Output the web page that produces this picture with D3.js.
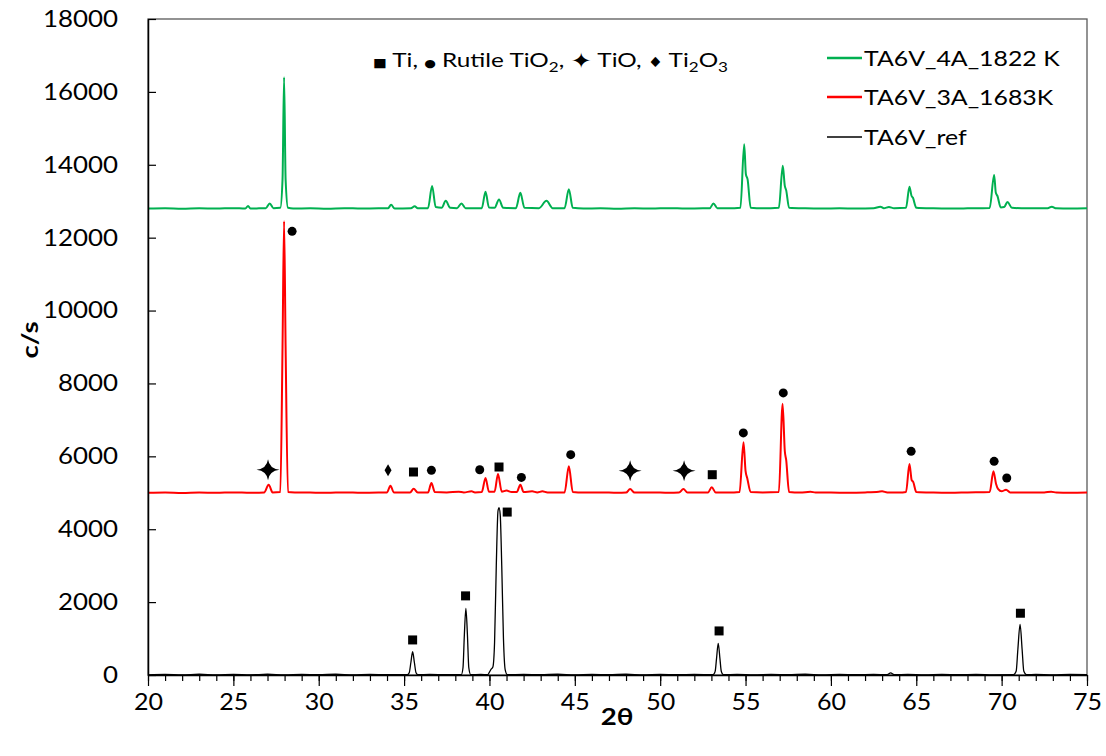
<!DOCTYPE html>
<html><head><meta charset="utf-8">
<script src="https://cdn.jsdelivr.net/npm/d3@7"></script>
<style>body{margin:0;background:#fff}svg{display:block}text{font-family:Lato,"Open Sans",sans-serif;fill:#000}</style>
</head><body><svg id="c" width="1106" height="756"></svg>
<script>
// ---- data ----
const seriesNames = ["TA6V_4A_1822 K", "TA6V_3A_1683K", "TA6V_ref"];
const green = [[20,12800],[21,12810],[22,12795],[23,12805],[24,12800],[25,12810],[25.7,12800],[25.86,12870],[26.0,12800],[26.5,12805],[26.9,12810],[27.13,12940],[27.35,12810],[27.75,12820],[27.88,13600],[27.97,16400],[28.06,13600],[28.2,12820],[28.5,12800],[29.5,12805],[30.5,12795],[31.5,12810],[32.5,12800],[33.5,12805],[34.05,12805],[34.24,12900],[34.45,12800],[35.4,12805],[35.62,12860],[35.8,12805],[36.4,12810],[36.64,13420],[36.85,12840],[37.2,12820],[37.44,13010],[37.7,12820],[38.1,12810],[38.36,12940],[38.6,12810],[39.55,12810],[39.77,13260],[39.97,12830],[40.3,12820],[40.56,13050],[40.8,12820],[41.55,12810],[41.81,13230],[42.05,12820],[42.9,12810],[43.34,13010],[43.7,12810],[44.4,12810],[44.65,13330],[44.88,12820],[45.5,12800],[46.5,12805],[47.5,12795],[48.5,12805],[49.5,12800],[50.5,12810],[51.5,12800],[52.5,12805],[52.9,12805],[53.12,12940],[53.35,12810],[54.0,12805],[54.7,12820],[54.92,14565],[55.02,13740],[55.12,13600],[55.3,12820],[56,12805],[56.95,12820],[57.18,13970],[57.3,13420],[57.38,13300],[57.55,12820],[58.5,12805],[59.5,12800],[60.5,12805],[61.5,12800],[62.5,12810],[62.9,12850],[63.1,12810],[63.4,12840],[63.7,12810],[64.4,12820],[64.6,13400],[64.72,13150],[64.8,13100],[65.0,12820],[66,12805],[67,12800],[68,12805],[69.3,12815],[69.56,13720],[69.66,13230],[69.75,13150],[69.95,12830],[70.15,12840],[70.34,12980],[70.6,12820],[71.5,12805],[72.7,12810],[72.94,12850],[73.2,12805],[74,12800],[75,12805]];
const red = [[20,5000],[21,5010],[22,4995],[23,5005],[24,5000],[25,5010],[26,5000],[26.8,5010],[27.07,5220],[27.3,5010],[27.75,5020],[27.88,9000],[27.97,12450],[28.06,9000],[28.2,5020],[28.6,5010],[29.5,5005],[30.5,5000],[31.5,5010],[32.5,5000],[33.5,5005],[34.0,5010],[34.2,5195],[34.4,5010],[35.35,5010],[35.56,5110],[35.8,5010],[36.4,5010],[36.6,5270],[36.8,5020],[37.5,5010],[38.2,5030],[38.5,5010],[38.95,5040],[39.15,5010],[39.55,5020],[39.77,5405],[39.97,5030],[40.3,5030],[40.5,5515],[40.72,5030],[41.0,5060],[41.3,5020],[41.6,5020],[41.81,5220],[42.0,5020],[42.5,5040],[42.8,5010],[43.1,5040],[43.4,5010],[44.4,5010],[44.65,5725],[44.88,5020],[45.5,5005],[46.5,5010],[47.5,5000],[48.0,5005],[48.24,5105],[48.5,5005],[49.5,5010],[50.5,5000],[51.1,5005],[51.36,5105],[51.6,5005],[52.8,5010],[53.02,5150],[53.25,5010],[54.0,5005],[54.65,5020],[54.88,6385],[55.0,5600],[55.1,5400],[55.3,5020],[56.0,5010],[56.95,5020],[57.17,7440],[57.3,6140],[57.38,5900],[57.55,5020],[58.2,5005],[58.8,5030],[59.1,5005],[60,5005],[61,5000],[62,5010],[62.8,5030],[63.0,5040],[63.3,5010],[64.0,5005],[64.4,5020],[64.6,5790],[64.73,5350],[64.82,5300],[65.0,5020],[66,5005],[67,5000],[68,5010],[69.3,5020],[69.52,5590],[69.67,5250],[69.8,5100],[70.0,5040],[70.26,5085],[70.5,5010],[71.5,5005],[72.5,5010],[72.9,5030],[73.2,5005],[74,5000],[75,5005]];
const black = [[20,5],[21,15],[22,5],[23,20],[24,5],[25,15],[26,5],[27,20],[28,5],[29,15],[30,10],[31,20],[32,5],[33,15],[34,10],[35.2,10],[35.3,60],[35.4,350],[35.5,640],[35.6,350],[35.7,60],[35.8,10],[36.5,15],[37.5,10],[38.35,10],[38.45,200],[38.53,1100],[38.62,1830],[38.71,1100],[38.79,200],[38.9,10],[39.5,15],[39.9,10],[40.0,80],[40.1,160],[40.2,220],[40.3,900],[40.4,3000],[40.5,4500],[40.56,4590],[40.63,4400],[40.72,3000],[40.82,1000],[40.92,150],[41.05,10],[42,15],[43,10],[44,20],[45,5],[46,15],[47,10],[48,20],[49,5],[50,15],[51,10],[52,15],[53.1,10],[53.22,100],[53.3,450],[53.4,870],[53.5,450],[53.58,100],[53.7,10],[54.5,15],[55.5,5],[56.5,15],[57.5,10],[58.5,20],[59.5,5],[60.5,15],[61.5,10],[62.5,15],[63.3,10],[63.5,60],[63.7,10],[64.5,15],[65.5,5],[66.5,15],[67.5,10],[68.5,15],[69.5,5],[70.7,10],[70.85,100],[70.95,700],[71.08,1390],[71.2,700],[71.3,100],[71.45,10],[72,15],[73,5],[74,15],[75,10]];
const tiSquares = [[35.55,5570],[40.56,5707],[53.05,5496],[35.5,962],[38.6,2171],[41.04,4471],[53.45,1209],[71.1,1695]];
const rutileDots = [[28.44,12174],[36.6,5615],[39.43,5633],[41.87,5422],[44.76,6046],[54.87,6642],[57.21,7741],[64.7,6137],[69.56,5862],[70.3,5404]];
const tioStars = [[27.03,5633],[48.24,5606],[51.4,5606]];
const ti2o3Diamonds = [[34.06,5615]];
const xTicks = [20,25,30,35,40,45,50,55,60,65,70,75];
const xMinorTicks = d3.range(20,76,1);
const yTicks = [0,2000,4000,6000,8000,10000,12000,14000,16000,18000];
const colors = ["#00B050","#FF0000","#000000"];

// ---- chart ----
const svg = d3.select("#c");
const L=148,R=1087,T=19,B=675;
const x = d3.scaleLinear().domain([20,75]).range([L,R]);
const y = d3.scaleLinear().domain([0,18000]).range([B,T]);
function stretch(sel,k){sel.each(function(){const w=this.getComputedTextLength();d3.select(this).attr("textLength",w*k).attr("lengthAdjust","spacingAndGlyphs");});}
function perChar(sel,pc){sel.each(function(){const n=this.textContent.length;d3.select(this).attr("textLength",n*pc).attr("lengthAdjust","spacingAndGlyphs");});}

svg.append("rect").attr("x",L).attr("y",T).attr("width",R-L).attr("height",B-T).attr("fill","none").attr("stroke","#595959").attr("stroke-width",1.3);

const line = d3.line().x(d=>x(d[0])).y(d=>y(d[1])).curve(d3.curveMonotoneX);
const g = svg.append("g");
[[green,2],[red,2],[black,1.3]].forEach(([data,w],i)=>{
  g.append("path").datum(data).attr("d",line).attr("fill","none").attr("stroke",colors[i]).attr("stroke-width",w).attr("stroke-linejoin","round");
});

// axes
const xMinor = svg.append("g").attr("transform",`translate(0,${B})`).call(d3.axisBottom(x).tickValues(xMinorTicks).tickSize(6).tickFormat(""));
xMinor.select(".domain").remove();
xMinor.selectAll("line").attr("stroke","#000").attr("stroke-width",1.2);
const xAx = svg.append("g").attr("transform",`translate(0,${B})`).call(d3.axisBottom(x).tickValues(xTicks).tickSize(11).tickSizeOuter(0).tickPadding(8).tickFormat(d3.format("d")));
xAx.select(".domain").attr("stroke","#000").attr("stroke-width",1.5);
xAx.selectAll("line").attr("stroke","#000").attr("stroke-width",1.2);
xAx.selectAll("text").attr("font-size",23).attr("font-family","Lato").attr("fill","#000").call(perChar,14.5);

const yAx = svg.append("g").attr("transform",`translate(${L},0)`).call(d3.axisLeft(y).tickValues(yTicks).tickSizeInner(-8).tickSizeOuter(0).tickPadding(30).tickFormat(d3.format("d")));
yAx.select(".domain").attr("stroke","#000").attr("stroke-width",1.5);
yAx.selectAll("line").attr("stroke","#000").attr("stroke-width",1.2);
yAx.selectAll("text").attr("font-size",23).attr("font-family","Lato").attr("fill","#000").call(perChar,15);

svg.append("text").attr("transform","translate(38,340) rotate(-90)").attr("text-anchor","middle").attr("font-size",23).attr("font-weight","bold").text("c/s").call(stretch,1.2);
svg.append("text").attr("x",617).attr("y",725).attr("text-anchor","middle").attr("font-size",23).attr("font-weight","bold").text("2θ").call(stretch,1.2);

// markers
const mk = svg.append("g").attr("fill","#000");
mk.selectAll("rect.sq").data(tiSquares).join("rect").attr("x",d=>x(d[0])-4.5).attr("y",d=>y(d[1])-4.5).attr("width",9).attr("height",9);
mk.selectAll("circle").data(rutileDots).join("circle").attr("cx",d=>x(d[0])).attr("cy",d=>y(d[1])).attr("r",4.5);
function star(cx,cy,rx,ry,ri){return `M${cx},${cy-ry} Q${cx+ri},${cy-ri} ${cx+rx},${cy} Q${cx+ri},${cy+ri} ${cx},${cy+ry} Q${cx-ri},${cy+ri} ${cx-rx},${cy} Q${cx-ri},${cy-ri} ${cx},${cy-ry}Z`;}
mk.selectAll("path.st").data(tioStars).join("path").attr("d",d=>star(x(d[0]),y(d[1]),11.5,10.5,1.2));
mk.selectAll("path.dm").data(ti2o3Diamonds).join("path").attr("d",d=>{const cx=x(d[0]),cy=y(d[1]);return `M${cx},${cy-6}L${cx+3.5},${cy}L${cx},${cy+6}L${cx-3.5},${cy}Z`;});

// phase key text
const kt = svg.append("text").attr("x",373).attr("y",67).attr("font-size",20);
const SYM = "DejaVu Sans";
kt.append("tspan").attr("font-size",12).attr("font-family",SYM).text("■");
kt.append("tspan").text(" Ti, ");
kt.append("tspan").attr("font-size",11).attr("font-family",SYM).text("●");
kt.append("tspan").text(" Rutile TiO");
kt.append("tspan").attr("font-size",14).attr("dy",5).text("2");
kt.append("tspan").attr("dy",-5).text(", ");
kt.append("tspan").attr("font-size",21).attr("dy",1).attr("font-family",SYM).text("✦");
kt.append("tspan").attr("dy",-1).text(" TiO, ");
kt.append("tspan").attr("font-size",14).attr("font-family",SYM).text("♦");
kt.append("tspan").text(" Ti");
kt.append("tspan").attr("font-size",14).attr("dy",5).text("2");
kt.append("tspan").attr("dy",-5).text("O");
kt.append("tspan").attr("font-size",14).attr("dy",5).text("3");
kt.attr("textLength",355).attr("lengthAdjust","spacingAndGlyphs");

// legend
const ly = [58,97,137];
seriesNames.forEach((n,i)=>{
  svg.append("line").attr("x1",827).attr("x2",862).attr("y1",ly[i]).attr("y2",ly[i]).attr("stroke",colors[i]).attr("stroke-width",i<2?2.5:1.5);
  svg.append("text").attr("x",864).attr("y",ly[i]+8).attr("font-size",22).text(n).call(stretch,1.13);
});
</script></body></html>
